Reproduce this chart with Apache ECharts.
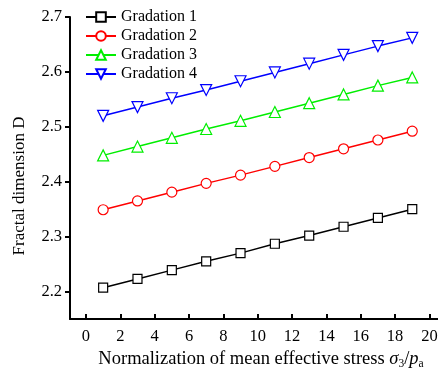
<!DOCTYPE html>
<html><head><meta charset="utf-8">
<script src="https://cdn.jsdelivr.net/npm/echarts@6/dist/echarts.min.js"></script>
<style>html,body{margin:0;padding:0;background:#fff}#c{width:438px;height:372px}</style>
</head><body><div id="c"></div>
<script>
var xValues = [1, 3, 5, 7, 9, 11, 13, 15, 17, 19];
var gradation1 = [2.207, 2.223, 2.239, 2.255, 2.270, 2.287, 2.302, 2.318, 2.334, 2.350];
var gradation2 = [2.349, 2.365, 2.381, 2.397, 2.412, 2.428, 2.444, 2.460, 2.476, 2.492];
var gradation3 = [2.448, 2.464, 2.480, 2.496, 2.511, 2.527, 2.543, 2.559, 2.575, 2.590];
var gradation4 = [2.520, 2.536, 2.552, 2.567, 2.583, 2.599, 2.615, 2.631, 2.647, 2.662];
var seriesNames = ['Gradation 1', 'Gradation 2', 'Gradation 3', 'Gradation 4'];
var xTicks = [0, 2, 4, 6, 8, 10, 12, 14, 16, 18, 20];
var yTicks = [2.2, 2.3, 2.4, 2.5, 2.6, 2.7];

var colors = ['#000000', '#ff0000', '#00ee00', '#0000ff'];
var symbols = ['rect', 'circle', 'triangle', 'path://M0,0 L10,0 L5,9 Z'];
var sizes = [9, 10, 11, 11];
var all = [gradation1, gradation2, gradation3, gradation4];
var font = '"Liberation Serif", "Times New Roman", serif';

var series = all.map(function (vals, i) {
  return {
    name: seriesNames[i], type: 'line',
    data: vals.map(function (v, j) { return [xValues[j], v]; }),
    symbol: symbols[i], symbolSize: sizes[i], showAllSymbol: true,
    lineStyle: { color: colors[i], width: 1.5 },
    itemStyle: { color: '#fff', borderColor: colors[i], borderWidth: 1.2 },
    emphasis: { disabled: true }, animation: false
  };
});

var chart = echarts.init(document.getElementById('c'), null, { renderer: 'canvas' });
chart.setOption({
  backgroundColor: '#fff',
  animation: false,
  grid: { left: 70, right: 0, top: 17, bottom: 53, containLabel: false, outerBoundsMode: 'none' },
  legend: {
    data: seriesNames, orient: 'vertical', left: 80, top: 4,
    itemWidth: 30, itemHeight: 12, itemGap: 3,
    textStyle: { fontFamily: font, fontSize: 16, color: '#000' }
  },
  xAxis: {
    type: 'value', min: -0.93, max: 20.5,
    name: '{a|Normalization of mean effective stress }{i|σ}{s|3}{a|/}{i|p}{s|a}',
    nameLocation: 'middle', nameGap: 28,
    nameTextStyle: {
      padding: [0, 0, 0, 14],
      rich: {
        a: { fontFamily: font, fontSize: 18.5, color: '#000' },
        i: { fontFamily: font, fontSize: 18.5, fontStyle: 'italic', color: '#000' },
        s: { fontFamily: font, fontSize: 11.5, color: '#000', padding: [10, 0, 0, 0] }
      }
    },
    splitLine: { show: false },
    axisLine: { onZero: false, lineStyle: { color: '#000', width: 2 } },
    axisTick: { inside: true, length: 5, lineStyle: { color: '#000', width: 2 }, customValues: xTicks },
    axisLabel: { customValues: xTicks, margin: 9, fontFamily: font, fontSize: 16.5, color: '#000' }
  },
  yAxis: {
    type: 'value', min: 2.15, max: 2.7,
    name: 'Fractal dimension D', nameLocation: 'middle', nameGap: 42,
    nameTextStyle: { fontFamily: font, fontSize: 17, color: '#000', padding: [0, 36, 0, 0] },
    splitLine: { show: false },
    axisLine: { show: true, onZero: false, lineStyle: { color: '#000', width: 2 } },
    axisTick: { show: true, inside: false, length: 5, lineStyle: { color: '#000', width: 2 }, customValues: yTicks },
    axisLabel: { customValues: yTicks, margin: 8, fontFamily: font, fontSize: 16.5, color: '#000',
      formatter: function (v) { return v.toFixed(1); } }
  },
  series: series
});
</script></body></html>
